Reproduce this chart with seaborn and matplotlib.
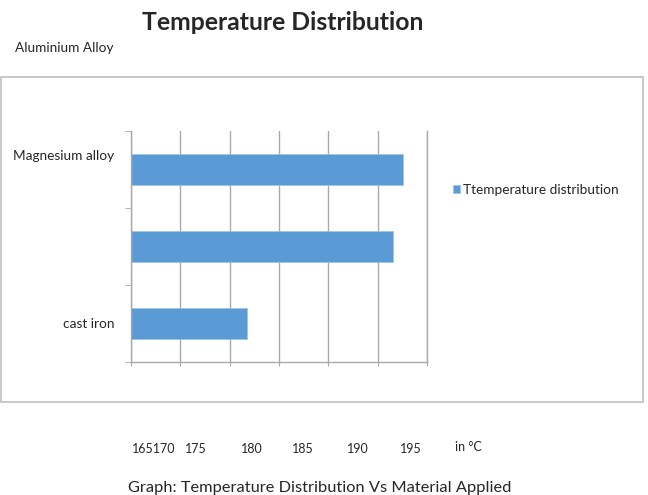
import matplotlib
matplotlib.use("Agg")
import matplotlib.pyplot as plt
import matplotlib.transforms as mtransforms
from matplotlib.patches import Rectangle
import pandas as pd
import seaborn as sns

# --- data ---------------------------------------------------------------
materials = ["Magnesium alloy", "Aluminium Alloy", "cast iron"]
temperatures = [192.6, 191.6, 176.8]          # in °C
axis_ticks = [165, 170, 175, 180, 185, 190, 195]
under_labels = ["165170", "175", "180", "185", "190", "195", "in °C"]
series_name = "Ttemperature distribution"

df = pd.DataFrame({"material": materials, "temperature": temperatures})

# --- style --------------------------------------------------------------
sns.set_style("white")
plt.rcParams["font.family"] = ["Lato", "DejaVu Sans"]
BAR = "#5b9bd5"
GRID = "#a9a9a9"
W, H = 648, 495
SMALL = 9.8

fig = plt.figure(figsize=(W / 100, H / 100), dpi=100)


def fx(px):
    return px / W


def fy(py):
    return 1 - py / H


# chart-area frame
fig.patches.append(Rectangle((fx(1), fy(402)), fx(642), 325 / H,
                             transform=fig.transFigure, fill=False,
                             edgecolor="#c4c4c4", linewidth=1.3))

ax = fig.add_axes([fx(131), fy(362), fx(296), 231 / H])
sns.barplot(data=df, x="temperature", y="material", orient="h",
            color=BAR, width=0.4, saturation=1, ax=ax,
            label=series_name, edgecolor="#9cc3e6", linewidth=0.5)

ax.set_xlim(axis_ticks[0], axis_ticks[-1])
ax.set_xticks(axis_ticks)
ax.set_ylim(len(materials) - 0.5, -0.5)
ax.xaxis.grid(True, color=GRID, linewidth=1)
ax.set_axisbelow(True)
ax.set_xlabel("")
ax.set_ylabel("")

ax.spines["top"].set_visible(False)
for side in ("left", "bottom", "right"):
    ax.spines[side].set_color(GRID)
    ax.spines[side].set_linewidth(1)

ax.tick_params(axis="x", bottom=True, length=3, color=GRID, labelbottom=False)
ax.set_yticks(range(len(materials)))
ax.set_yticklabels(["Magnesium alloy", "", "cast iron"], fontsize=SMALL)
ax.set_yticks([i - 0.5 for i in range(len(materials) + 1)], minor=True)
ax.tick_params(axis="y", which="major", length=0, pad=12)
ax.tick_params(axis="y", which="minor", left=True, length=4, color=GRID)

# nudge the top category label upward
lbl = ax.get_yticklabels()[0]
lbl.set_transform(lbl.get_transform() +
                  mtransforms.ScaledTranslation(0, 14 / 100, fig.dpi_scale_trans))

leg = ax.legend(loc="center left", bbox_to_anchor=(fx(446), fy(190)),
                bbox_transform=fig.transFigure, frameon=False,
                fontsize=SMALL, handlelength=0.55, handleheight=0.55,
                handletextpad=0.2, borderpad=0)

# titles and free-standing texts
fig.text(fx(283), fy(22), "Temperature Distribution", ha="center", va="center",
         fontsize=17.8, fontweight="bold")
fig.text(fx(15), fy(48), materials[1], ha="left", va="center", fontsize=SMALL)

under_x = [132, 185, 241, 292, 347, 400, 455]
under_y = [449, 449, 449, 449, 449, 449, 447]
for xp, yp, t in zip(under_x, under_y, under_labels):
    fig.text(fx(xp), fy(yp), t, ha="left", va="center", fontsize=9)

fig.text(fx(128), fy(488), "Graph: Temperature Distribution Vs Material Applied",
         ha="left", va="center", fontsize=11.8)

fig.savefig("out.png", dpi=100)
